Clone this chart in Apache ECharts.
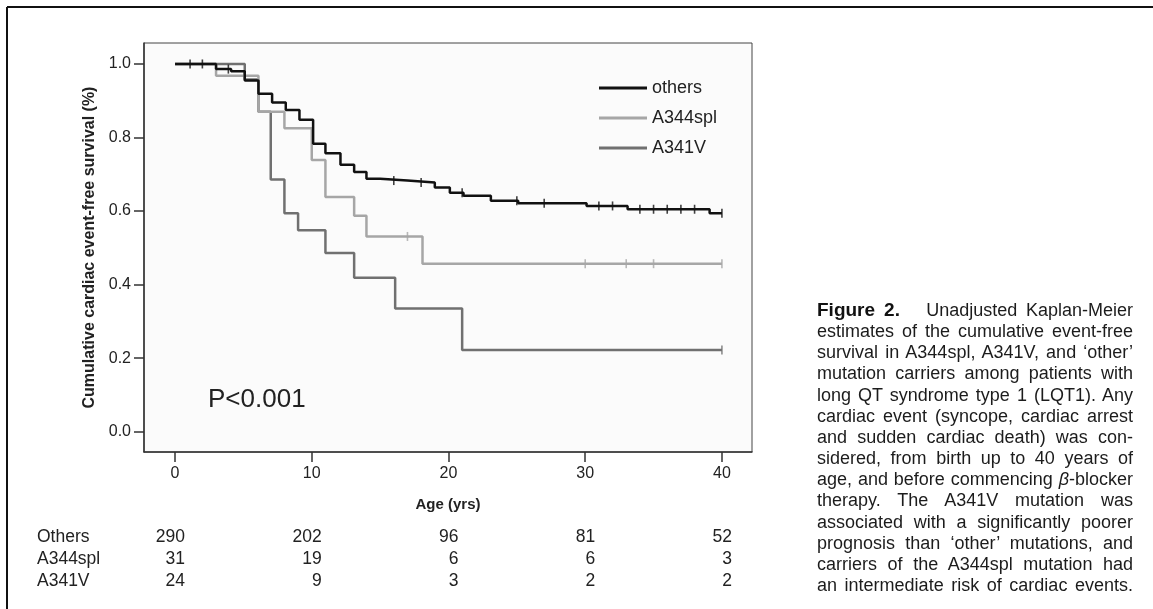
<!DOCTYPE html>
<html>
<head>
<meta charset="utf-8">
<script src="https://cdn.jsdelivr.net/npm/echarts@6/dist/echarts.min.js"></script>
<style>
  html, body { margin: 0; padding: 0; background: #fff; }
  #wrap { position: relative; width: 1153px; height: 609px; }
  #chart { position: absolute; left: 0; top: 0; width: 1153px; height: 609px; }
  #caption {
    position: absolute; left: 817px; top: 299px; width: 316px;
    font-family: 'Liberation Sans', Arial, sans-serif; font-size: 18px;
    line-height: 21.15px; color: #1c1c1c;
  }
  #caption div { text-align: justify; text-align-last: justify; }
  #caption b { font-family: 'Liberation Sans Narrow', 'Liberation Sans', sans-serif; font-size: 19px; color: #111; }
</style>
</head>
<body>
<div id="wrap">
  <div id="chart"></div>
  <div id="caption">
    <div><b>Figure 2.</b>&nbsp;&nbsp; Unadjusted Kaplan-Meier</div>
    <div>estimates of the cumulative event-free</div>
    <div>survival in A344spl, A341V, and ‘other’</div>
    <div>mutation carriers among patients with</div>
    <div>long QT syndrome type 1 (LQT1). Any</div>
    <div>cardiac event (syncope, cardiac arrest</div>
    <div>and sudden cardiac death) was con-</div>
    <div>sidered, from birth up to 40 years of</div>
    <div>age, and before commencing <i>β</i>-blocker</div>
    <div>therapy. The A341V mutation was</div>
    <div>associated with a significantly poorer</div>
    <div>prognosis than ‘other’ mutations, and</div>
    <div>carriers of the A344spl mutation had</div>
    <div>an intermediate risk of cardiac events.</div>
  </div>
</div>
<script>
// Kaplan-Meier steps: [age, survival]
var othersKM = [[0, 1.0], [3.0, 0.986], [4.1, 0.980], [5.1, 0.955], [6.1, 0.919], [7.1, 0.895],
  [8.1, 0.875], [9.1, 0.848], [10.1, 0.783], [11.0, 0.757], [12.1, 0.726], [13.1, 0.706],
  [14.0, 0.688], [15.0, 0.683], [17.0, 0.678], [19.0, 0.664], [20.1, 0.650], [21.1, 0.642],
  [23.1, 0.628], [25.1, 0.621], [30.1, 0.614], [33.1, 0.605], [39.1, 0.594], [40, 0.594]];
var a344KM = [[0, 1.0], [3.0, 0.968], [6.1, 0.870], [8.0, 0.825], [10.0, 0.739], [11.0, 0.638],
  [13.1, 0.587], [14.0, 0.531], [18.1, 0.457], [40, 0.457]];
var a341KM = [[0, 1.0], [5.1, 0.958], [6.1, 0.870], [7.0, 0.686], [8.0, 0.594], [9.0, 0.548],
  [11.0, 0.486], [13.1, 0.419], [16.1, 0.335], [21.0, 0.222], [40, 0.222]];

// censored ages
var othersCens = [1.1, 2.0, 3.9, 16.0, 18.0, 21.0, 25.0, 27.0, 31.0, 32.0, 34.0, 35.0, 36.0, 37.0, 38.0, 40.0];
var a344Cens = [17.0, 30.0, 33.0, 35.0, 40.0];
var a341Cens = [40.0];

var xTicks = [0, 10, 20, 30, 40];
var yTicks = [0, 0.2, 0.4, 0.6, 0.8, 1.0];

// numbers at risk
var riskNames = ['Others', 'A344spl', 'A341V'];
var riskOthers = [290, 202, 96, 81, 52];
var riskA344 = [31, 19, 6, 6, 3];
var riskA341 = [24, 9, 3, 2, 2];

var colOthers = '#111111';
var colA344 = '#a6a6a6';
var colA341 = '#707070';
var font = "'Liberation Sans', Arial, sans-serif";
var narrow = "'Liberation Sans Narrow', 'Liberation Sans', sans-serif";

function atAge(curve, t) {
  var v = curve[0][1];
  curve.forEach(function (p) { if (p[0] <= t) v = p[1]; });
  return v;
}
function censPoints(curve, ages) {
  return ages.map(function (t) { return [t, atAge(curve, t)]; });
}
function kmLine(name, data, color) {
  return {
    name: name, type: 'line', step: 'end', data: data, symbol: 'none',
    lineStyle: { color: color, width: 2.5 }, itemStyle: { color: color }
  };
}
function censSeries(name, data, color) {
  return {
    name: name, type: 'scatter', data: data, symbol: 'rect', symbolSize: [1.6, 9],
    itemStyle: { color: color }, z: 3
  };
}

var myChart = echarts.init(document.getElementById('chart'));
var option = {
  animation: false,
  grid: {
    left: 144, right: 401, top: 43, bottom: 157,
    show: true, borderColor: '#444', borderWidth: 1, backgroundColor: '#fbfbfb'
  },
  legend: {
    data: ['others', 'A344spl', 'A341V'],
    orient: 'vertical', left: 594, top: 74,
    icon: 'rect', itemWidth: 48, itemHeight: 3, itemGap: 12,
    textStyle: { fontFamily: font, fontSize: 18, color: '#222', lineHeight: 18 }
  },
  xAxis: {
    type: 'value', min: -2.27, max: 42.2,
    name: 'Age (yrs)', nameLocation: 'middle', nameGap: 45,
    nameTextStyle: { fontFamily: narrow, fontWeight: 'bold', fontSize: 15, color: '#222' },
    splitLine: { show: false },
    axisLine: { show: true, onZero: false, lineStyle: { color: '#333', width: 1.5 } },
    axisTick: { show: true, length: 10, customValues: xTicks, lineStyle: { color: '#333', width: 1.5 } },
    axisLabel: { customValues: xTicks, margin: 14, fontFamily: font, fontSize: 16, color: '#222' }
  },
  yAxis: {
    type: 'value', min: -0.055, max: 1.057,
    name: 'Cumulative cardiac event-free survival (%)', nameLocation: 'middle', nameGap: 44,
    nameTextStyle: { fontFamily: narrow, fontWeight: 'bold', fontSize: 16, color: '#222' },
    splitLine: { show: false },
    axisLine: { show: true, onZero: false, lineStyle: { color: '#333', width: 1.5 } },
    axisTick: { show: true, length: 10, customValues: yTicks, lineStyle: { color: '#333', width: 1.5 } },
    axisLabel: {
      customValues: yTicks, margin: 13, fontFamily: font, fontSize: 16, color: '#222',
      formatter: function (v) { return v.toFixed(1); }
    }
  },
  series: [
    kmLine('A341V', a341KM, colA341),
    kmLine('A344spl', a344KM, colA344),
    kmLine('others', othersKM, colOthers),
    censSeries('A341V censored', censPoints(a341KM, a341Cens), colA341),
    censSeries('A344spl censored', censPoints(a344KM, a344Cens), colA344),
    censSeries('others censored', censPoints(othersKM, othersCens), colOthers)
  ]
};
myChart.setOption(option);

// frame, p value and numbers-at-risk table
var elements = [
  { type: 'line', shape: { x1: 7, y1: 7, x2: 1153, y2: 7 }, style: { stroke: '#111', lineWidth: 2 } },
  { type: 'line', shape: { x1: 7, y1: 7, x2: 7, y2: 609 }, style: { stroke: '#111', lineWidth: 2 } },
  { type: 'text', x: 208, y: 400, style: { text: 'P<0.001', font: '26px ' + font, fill: '#222', verticalAlign: 'middle' } }
];
var rowY = [537, 559, 581];
var rows = [riskOthers, riskA344, riskA341];
rows.forEach(function (row, r) {
  elements.push({ type: 'text', x: 37, y: rowY[r],
    style: { text: riskNames[r], font: '17.5px ' + font, fill: '#222', verticalAlign: 'middle' } });
  row.forEach(function (n, i) {
    var px = myChart.convertToPixel({ xAxisIndex: 0 }, xTicks[i]);
    elements.push({ type: 'text', x: px + 10, y: rowY[r],
      style: { text: String(n), font: '17.5px ' + font, fill: '#222', align: 'right', verticalAlign: 'middle' } });
  });
});
myChart.setOption({ graphic: { elements: elements } });

window.addEventListener('resize', function () {
  myChart.resize();
});
</script>
</body>
</html>
